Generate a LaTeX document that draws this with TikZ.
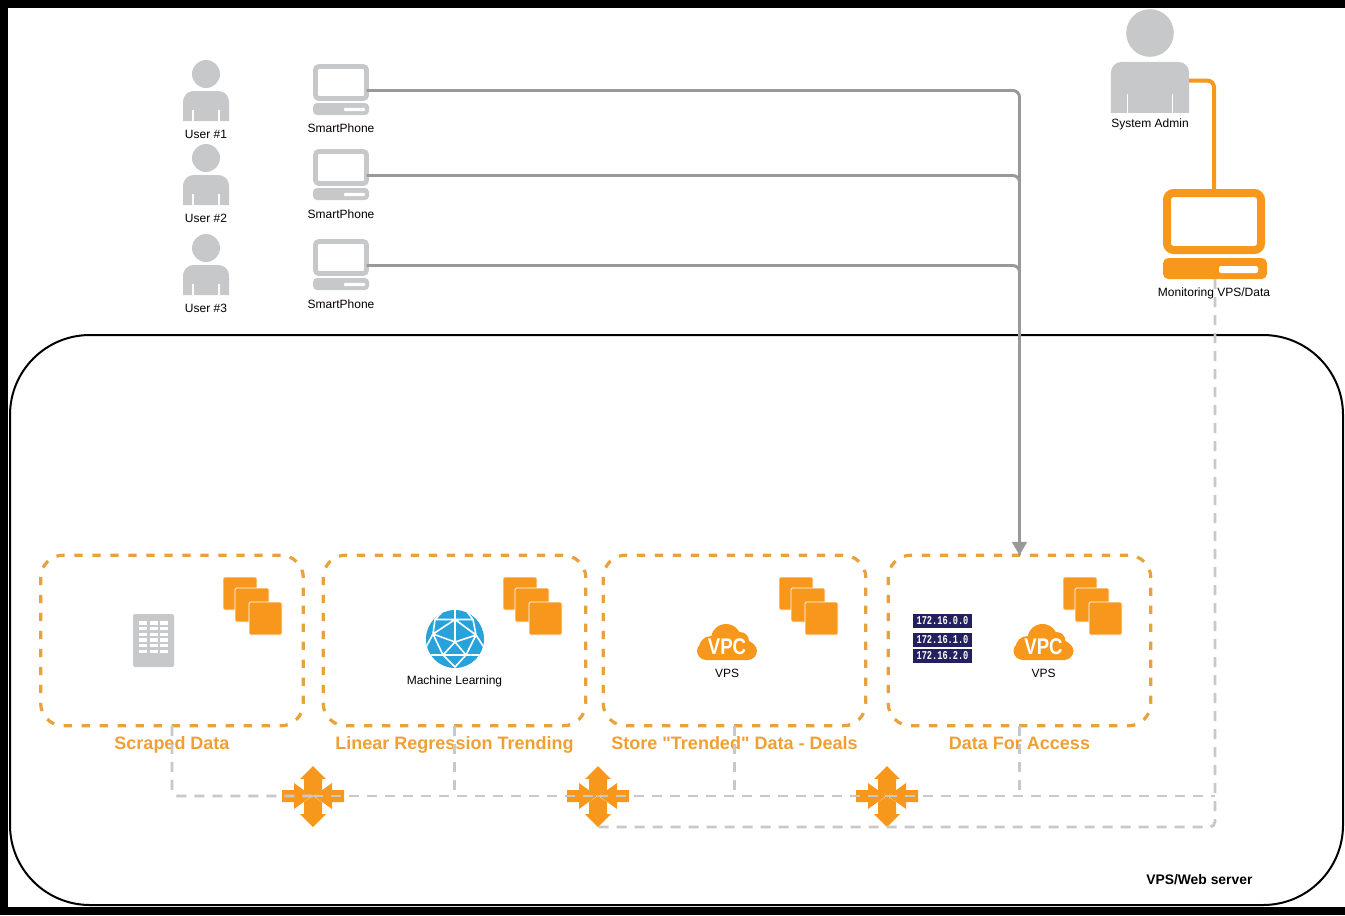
\documentclass[tikz,border=0pt]{standalone}
\usepackage{fontspec}
\setmainfont{Liberation Sans}
\newfontfamily\tierfont{Liberation Sans}
\usepackage{tikz}
\usetikzlibrary{arrows.meta,positioning,calc}
\definecolor{icongray}{RGB}{199,200,202}
\definecolor{linegray}{RGB}{153,153,153}
\definecolor{iconorange}{RGB}{247,152,29}
\definecolor{boxorange}{RGB}{233,162,59}
\definecolor{labelorange}{RGB}{240,160,51}
\definecolor{globeblue}{RGB}{39,162,219}
\definecolor{ipnavy}{RGB}{35,32,95}

\tikzset{
    personicon/.pic={
        \fill[icongray] (0,0) circle[radius=14];
        \fill[icongray] (-23,47) [rounded corners=8pt] -- (-23,17) -- (23,17) [sharp corners] -- (23,47) -- cycle;
        \draw[white, line width=0.8pt] (-13,36) -- (-13,47) (13,36) -- (13,47);
        \coordinate (-east) at (23,28);
    },
    stackicon/.pic={
        \filldraw[iconorange, draw=white, line width=0.5pt, rounded corners=1pt] (0,0) rectangle (34,33);
        \filldraw[iconorange, draw=white, line width=0.5pt, rounded corners=1pt] (12,11) rectangle (46,45);
        \filldraw[iconorange, draw=white, line width=0.5pt, rounded corners=1pt] (26,25) rectangle (59,58);
    },
    routericon/.pic={
        \fill[iconorange] (0,-30) -- (13,-17) -- (9,-17) -- (9,-5) -- (0,0) -- (-9,-5) -- (-9,-17) -- (-13,-17) -- cycle;
        \fill[iconorange] (0,31) -- (13,18) -- (9,18) -- (9,6) -- (0,0) -- (-9,6) -- (-9,18) -- (-13,18) -- cycle;
        \fill[iconorange] (-31,-6) -- (-19,-6) -- (-19,-13) -- (-1,0) -- (-19,13) -- (-19,6) -- (-31,6) -- cycle;
        \fill[iconorange] (31,-6) -- (19,-6) -- (19,-13) -- (1,0) -- (19,13) -- (19,6) -- (31,6) -- cycle;
        \coordinate (-center) at (0,0);
        \coordinate (-south) at (0,31);
    },
    vpcicon/.pic={
        \fill[iconorange, rounded corners=7pt] (-30,0) rectangle (30,18);
        \fill[iconorange] (-1,-3) circle[radius=15];
        \fill[iconorange] (13,-1) circle[radius=9];
        \fill[iconorange] (-16,6) circle[radius=12];
        \fill[iconorange] (18,8) circle[radius=10];
        \node[white, font=\fontsize{17}{17}\selectfont\bfseries, inner sep=0pt] (-text) at (0,5) {\scalebox{0.82}[1]{VPC}};
    }
}

\begin{document}
\begin{tikzpicture}[
    x=0.75pt, y=-0.75pt,
    small/.style={font=\fontsize{9}{10}\selectfont, inner sep=0pt, text=black},
    pcscreen/.style={draw=icongray, line width=3.6pt, rounded corners=2.5pt, minimum width=38.25pt, minimum height=24pt, inner sep=0pt, outer sep=0pt},
    pcbase/.style={fill=icongray, rounded corners=3pt, minimum width=42pt, minimum height=9pt, inner sep=0pt, outer sep=0pt},
    pcslot/.style={fill=white, rounded corners=0.8pt, minimum width=15.75pt, minimum height=2.4pt, inner sep=0pt, outer sep=0pt},
    phonelink/.style={linegray, line width=2.2pt, rounded corners=5pt},
    tierbox/.style={draw=boxorange, line width=2.4pt, dash pattern=on 6.2pt off 7.3pt, rounded corners=17pt, minimum width=197pt, minimum height=128pt, inner sep=0pt, outer sep=0pt},
    tierlabel/.style={font=\tierfont\fontsize{13.5}{14}\selectfont\bfseries, text=labelorange, inner sep=0pt, text height=10pt, text depth=3pt},
    vpclink/.style={icongray, line width=2.2pt, dash pattern=on 7.5pt off 6pt, rounded corners=4pt},
    iprow/.style={fill=ipnavy, text=white, font=\fontsize{9}{10}\selectfont\ttfamily\bfseries, minimum width=44.25pt, minimum height=10.5pt, inner sep=0pt}
]
\setmonofont{Liberation Mono}
\useasboundingbox (0,0) rectangle (1345,915);
\fill[black] (0,0) rectangle (1345,915);
\fill[white] (8,8) rectangle (1345,907);

% VPS/Web server frame
\node[draw=black, line width=1.5pt, rounded corners=60pt, minimum width=999.75pt, minimum height=427.5pt, inner sep=0pt] (server) at (676.5,620) {};
\node[font=\fontsize{10.4}{11}\selectfont\bfseries, inner sep=0pt, left=68.5pt of server.south east, yshift=20pt] (serverlabel) {VPS/Web server};

% Users and their machines
\foreach \i/\dy/\ly in {1/0/134.5, 2/84/218.5, 3/174/308.5} {
    \pic (user\i) at (206,74+\dy) {personicon};
    \node[small] (userlabel\i) at (206,\ly) {User \#\i};
}
\foreach \i/\dy/\ly in {1/0/128.5, 2/85/214.5, 3/175/304.5} {
    \node[pcscreen] (pc\i) at (341,82.5+\dy) {};
    \node[pcbase] (pcbase\i) at (341,109+\dy) {};
    \node[pcslot] (pcslot\i) at (354.5,109.5+\dy) {};
    \node[small] (pclabel\i) at (341,\ly) {SmartPhone};
}

% System admin and monitoring machine
\pic[scale=1.7] (admin) at (1150,33) {personicon};
\node[small] (adminlabel) at (1150,124) {System Admin};
\node[draw=iconorange, line width=6pt, rounded corners=5pt, minimum width=70.5pt, minimum height=42.75pt, inner sep=0pt, outer sep=0pt] (monitor) at (1214,221.5) {};
\node[fill=iconorange, rounded corners=4pt, minimum width=78pt, minimum height=15.75pt, inner sep=0pt, outer sep=0pt] (monitorbase) at (1215,268.5) {};
\node[fill=white, rounded corners=1.5pt, minimum width=29.25pt, minimum height=5.25pt, inner sep=0pt] (monitorslot) at (1238.5,269.5) {};

% Tier boxes
\node[tierbox] (box1) at (172,640.5) {};
\node[tierbox] (box2) at (454.5,640.5) {};
\node[tierbox] (box3) at (734.5,640.5) {};
\node[tierbox] (box4) at (1019.5,640.5) {};
\node[tierlabel, below=7.5pt of box1] (tier1) {Scraped Data};
\node[tierlabel, below=7.5pt of box2] (tier2) {Linear Regression Trending};
\node[tierlabel, below=7.5pt of box3] (tier3) {Store "Trended" Data - Deals};
\node[tierlabel, below=7.5pt of box4] (tier4) {Data For Access};

% Instance stacks
\pic (stack1) at (223,577) {stackicon};
\pic (stack2) at (503,577) {stackicon};
\pic (stack3) at (779,577) {stackicon};
\pic (stack4) at (1063,577) {stackicon};

% Scraped data table
\node[fill=icongray, rounded corners=1.2pt, minimum width=30.75pt, minimum height=39.75pt, inner sep=0pt] (table) at (153.5,640.5) {};
\foreach \r in {0,...,5} {
    \foreach \c in {0,1,2} {
        \fill[white] (138.7+10.8*\c,621.3+5.67*\r) rectangle ++(8,3.5);
    }
}

% Machine learning globe
\node[fill=globeblue, circle, minimum size=43.5pt, inner sep=0pt] (globe) at (455,639) {};
\begin{scope}[shift={(455,639)}]
    \clip (0,0) circle[radius=29];
    \draw[white, line width=1.2pt]
        (-20,-19.5) -- (0,-19.5) -- (18,-19.5)
        (-20,-19.5) -- (-22,-5) (18,-19.5) -- (21,-4)
        (0,-19.5) -- (-22,-5) (0,-19.5) -- (21,-4)
        (-22,-5) -- (0,3) -- (21,-4) (0,-19.5) -- (0,3)
        (-22,-5) -- (-12,16) (21,-4) -- (11,16)
        (0,3) -- (-12,16) (0,3) -- (11,16)
        (-12,16) -- (11,16) (-12,16) -- (0,28) -- (11,16)
        (-22,-5) -- (-30,10) (21,-4) -- (30,10)
        (-20,-19.5) -- (-10,-30) (18,-19.5) -- (10,-30) (0,-19.5) -- (0,-30)
        (-12,16) -- (-26,16) (11,16) -- (26,16);
\end{scope}
\node[small] (globelabel) at (454.5,681) {Machine Learning};

% VPC clouds
\pic (cloud1) at (727,642) {vpcicon};
\node[small] (cloudlabel1) at (727,673) {VPS};
\pic (cloud2) at (1043.5,642) {vpcicon};
\node[small] (cloudlabel2) at (1043.5,673) {VPS};

% Address blocks
\node[iprow] (ip1) at (942.5,621) {\scalebox{0.72}[1]{172.16.0.0}};
\node[iprow] (ip2) at (942.5,640) {\scalebox{0.72}[1]{172.16.1.0}};
\node[iprow] (ip3) at (942.5,656) {\scalebox{0.72}[1]{172.16.2.0}};

% Routers
\pic (routerA) at (313,796) {routericon};
\pic (routerB) at (598,796) {routericon};
\pic (routerC) at (887,796) {routericon};

% Phone connections
\draw[phonelink] ([yshift=-6pt]pc1.east) -| (box4.north);
\draw[phonelink] ([yshift=-6pt]pc2.east) -| (box4.north);
\draw[phonelink, -{Triangle[width=11pt,length=10pt]}] ([yshift=-6pt]pc3.east) -| (box4.north);

% Admin connection
\draw[iconorange, line width=3pt, rounded corners=5pt] (admin-east) -| (monitor.north);

% Private network
\draw[vpclink] (box1.south) |- (routerA-center);
\draw[vpclink] (routerA-center) -- (routerB-center);
\draw[vpclink] (routerB-center) -- (routerC-center);
\draw[vpclink] (routerC-center) -- (monitorbase.south |- routerC-center);
\draw[vpclink] (box2.south) -- (box2.south |- routerA-center);
\draw[vpclink] (box3.south) -- (box3.south |- routerA-center);
\draw[vpclink] (box4.south) -- (box4.south |- routerA-center);
\draw[vpclink] (monitorbase.south) |- (routerB-south);

% Monitoring label sits over the dashed link
\node[small] (monitorlabel) at (1214,293) {Monitoring VPS/Data};
\end{tikzpicture}
\end{document}
